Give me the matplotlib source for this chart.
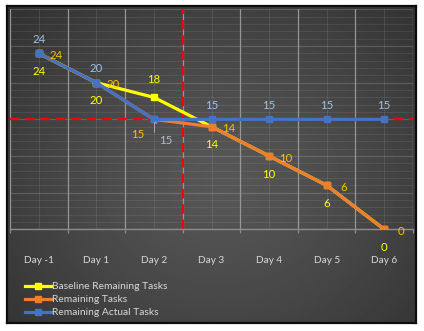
import matplotlib
matplotlib.use('Agg')
import matplotlib.pyplot as plt
import numpy as np

days = ['Day -1', 'Day 1', 'Day 2', 'Day 3', 'Day 4', 'Day 5', 'Day 6']
baseline = [24, 20, 18, 14, 10, 6, 0]
remaining = [24, 20, 15, 14, 10, 6, 0]
actual = [24, 20, 15, 15, 15, 15, 15]

plt.rcParams['font.family'] = ['Lato', 'DejaVu Sans']

W, H = 424, 331
fig = plt.figure(figsize=(W / 100, H / 100), dpi=100, facecolor='white')


def fx(px):
    return px / W


def fy(py):
    return 1 - py / H


# dark panel with radial shading
pl, pr, pt, pb = 7, 416, 6, 323
panel = fig.add_axes([fx(pl), fy(pb), fx(pr - pl), (pb - pt) / H])
yy, xx = np.mgrid[0:1:300j, 0:1:400j]
r = np.sqrt(((xx - 0.52) / 0.75) ** 2 + ((yy - 0.55) / 0.85) ** 2)
shade = 0.34 - 0.16 * np.clip(r, 0, 1) ** 1.3
panel.imshow(shade, cmap='gray', vmin=0, vmax=1, aspect='auto',
             extent=(0, 1, 1, 0), interpolation='bilinear')
panel.set_xticks([])
panel.set_yticks([])
for s in panel.spines.values():
    s.set_color('#0d0d0d')
    s.set_linewidth(1.6)

# plot area
al, ar, at, ab = 10, 413, 9.4, 229.3
ax = fig.add_axes([fx(al), fy(ab), fx(ar - al), (ab - at) / H])
ax.set_facecolor('none')
ax.set_xlim(-0.5, 6.5)
ax.set_ylim(0, 30)

for v in range(0, 31):
    if v % 5 == 0:
        ax.axhline(v, color='white', alpha=0.16, lw=0.9, zorder=1)
    else:
        ax.axhline(v, color='white', alpha=0.08, lw=0.7, zorder=0.5)
for i in range(len(days)):
    ax.axvline(i, color='white', alpha=0.09, lw=0.8, zorder=0.5)
for i in range(len(days) + 1):
    ax.axvline(i - 0.5, color='#969696', lw=0.9, zorder=1)

for s in ['top', 'left', 'right']:
    ax.spines[s].set_visible(False)
ax.spines['bottom'].set_color('#8c8c8c')
ax.spines['bottom'].set_linewidth(1.0)
ax.set_yticks([])
ax.set_xticks(range(len(days)))
ax.set_xticklabels(days, color='#d9d9d9', fontsize=7.2)
ax.tick_params(axis='x', which='major', length=0, pad=19)
ax.set_xticks(np.arange(-0.5, len(days), 1.0), minor=True)
ax.tick_params(axis='x', which='minor', length=3, color='#8c8c8c', width=0.9)

# reference lines
ax.axhline(15, color='#ff0000', lw=1.7, ls=(0, (4, 2.5)), zorder=2)
ax.axvline(2.5, color='#ff0000', lw=1.7, ls=(0, (4, 2.5)), zorder=2)

x = np.arange(len(days))
ax.plot(x, baseline, color='#ffff00', lw=2.3, marker='s', ms=4.5, zorder=3,
        label='Baseline Remaining Tasks')
ax.plot(x, remaining, color='#ed7d31', lw=2.3, marker='s', ms=4.5, zorder=4,
        label='Remaining Tasks')
ax.plot(x, actual, color='#4472c4', lw=2.3, marker='s', ms=4.5, zorder=5,
        label='Remaining Actual Tasks')

lbl = dict(fontsize=8.2, ha='center', va='center', textcoords='offset pixels', zorder=6)
for i, v in enumerate(baseline):
    dy = 18 if i == 2 else -18
    ax.annotate(str(v), (i, v), xytext=(0, dy), color='#ffff00', **lbl)
for i, v in enumerate(remaining):
    if i == 2:
        ax.annotate(str(v), (i, v), xytext=(-16, -15), color='#ffc000',
                    arrowprops=dict(arrowstyle='-', color='#a6a6a6', lw=0.7,
                                    connectionstyle='angle,angleA=0,angleB=90,rad=0',
                                    shrinkA=5, shrinkB=2), **lbl)
    else:
        ax.annotate(str(v), (i, v), xytext=(17, -2), color='#ffc000', **lbl)
for i, v in enumerate(actual):
    if i == 2:
        ax.annotate(str(v), (i, v), xytext=(12, -21), color='#9dc3e6',
                    arrowprops=dict(arrowstyle='-', color='#a6a6a6', lw=0.7,
                                    shrinkA=7, shrinkB=2), **lbl)
    else:
        ax.annotate(str(v), (i, v), xytext=(0, 14), color='#9dc3e6', **lbl)

leg = ax.legend(loc='upper left', bbox_to_anchor=(fx(25), fy(282)),
                bbox_transform=fig.transFigure, frameon=False, fontsize=7.4,
                handlelength=2.5, handletextpad=0.1, labelspacing=0.38,
                borderpad=0, borderaxespad=0)
for t in leg.get_texts():
    t.set_color('#d9d9d9')

fig.savefig('out.png', dpi=100, facecolor='white')
